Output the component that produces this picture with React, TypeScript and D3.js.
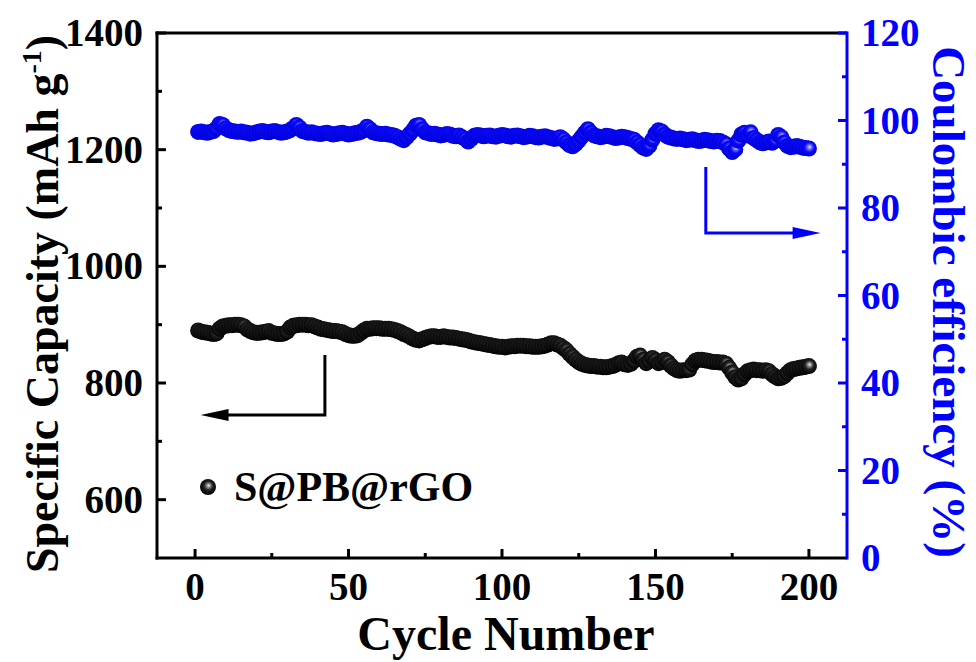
import React, { useEffect, useRef } from "react";
import * as d3 from "d3";

// cycles 1..200
const capacity = [
  890, 888, 887, 886, 885, 884, 885, 893, 897, 898,
  899, 899, 900, 900, 899, 897, 892, 889, 887, 886,
  886, 887, 888, 889, 886, 885, 884, 884, 885, 888,
  895, 898, 899, 900, 900, 900, 899, 899, 897, 895,
  893, 892, 891, 890, 889, 889, 888, 887, 884, 882,
  881, 881, 882, 886, 890, 893, 893, 894, 894, 894,
  893, 893, 893, 892, 891, 889, 887, 884, 882, 879,
  876, 874, 873, 875, 877, 879, 880, 880, 879, 879,
  880, 879, 878, 878, 877, 876, 875, 874, 873, 871,
  870, 869, 868, 867, 866, 865, 864, 863, 862, 862,
  861, 862, 863, 863, 864, 864, 864, 863, 863, 862,
  862, 862, 863, 864, 866, 868, 868, 866, 864, 860,
  856, 850, 845, 840, 836, 833, 831, 830, 829, 829,
  828, 828, 827, 827, 828, 829, 831, 834, 835, 832,
  831, 833, 838, 845, 847, 840, 834, 838, 843, 839,
  834, 836, 840, 836, 830, 825, 822, 821, 822, 822,
  823, 832, 838, 840, 840, 839, 838, 837, 836, 836,
  835, 835, 833, 826, 818, 810, 806, 808, 815, 820,
  822, 823, 822, 822, 821, 822, 820, 815, 811, 808,
  809, 812, 817, 822, 824, 825, 826, 827, 828, 829,
];

const efficiency = [
  97.4, 97.5, 97.3, 97.2, 97.4, 97.6, 98.2, 99.2, 99.0, 98.2,
  97.8, 97.6, 97.5, 97.4, 97.5, 97.3, 97.2, 97.0, 97.1, 97.3,
  97.5, 97.6, 97.4, 97.3, 97.5, 97.6, 97.4, 97.2, 97.3, 97.5,
  97.8, 98.3, 99.0, 98.4, 97.6, 97.4, 97.2, 97.3, 97.1, 97.0,
  96.9, 97.1, 97.2, 97.0, 96.8, 96.9, 97.1, 97.2, 97.0, 96.8,
  96.9, 97.1, 97.2, 97.4, 97.8, 98.6, 98.0, 97.3, 97.1, 97.0,
  96.9, 97.0, 96.8, 96.7, 96.5, 96.2, 95.8, 95.5, 96.2, 97.0,
  97.8, 98.8, 99.0, 98.0, 97.3, 97.1, 96.9, 97.0, 96.8, 96.6,
  96.7, 96.9, 96.8, 96.5, 96.4, 96.6, 96.2, 95.8, 95.2, 95.8,
  96.5, 96.7, 96.6, 96.4, 96.5, 96.6, 96.4, 96.3, 96.5, 96.7,
  96.6, 96.4, 96.3, 96.5, 96.6, 96.4, 96.2, 96.3, 96.5, 96.4,
  96.2, 96.1, 96.3, 96.4, 96.2, 96.0, 95.8, 95.9, 96.2, 95.7,
  95.0, 94.4, 94.1, 94.6, 95.4, 96.3, 97.2, 98.0, 97.2, 96.6,
  96.4, 96.2, 96.3, 96.5, 96.4, 96.2, 96.0, 96.1, 96.3, 96.2,
  96.0, 95.8, 95.6, 95.0, 94.4, 93.8, 93.5, 94.2, 95.6, 97.0,
  97.8, 97.5, 96.8, 96.3, 96.1, 95.9, 95.8, 95.9, 95.7, 95.5,
  95.6, 95.7, 95.5, 95.3, 95.4, 95.6, 95.5, 95.3, 95.2, 95.4,
  95.3, 95.0, 94.6, 93.6, 92.8, 93.4, 95.4, 96.8, 97.2, 96.6,
  97.3, 96.0, 95.5, 95.0, 94.8, 95.0, 95.2, 94.9, 95.4, 96.7,
  96.2, 95.0, 94.2, 93.9, 94.0, 94.2, 94.0, 93.8, 93.7, 93.6,
];

const xTicks = [0, 50, 100, 150, 200];
const leftTicks = [600, 800, 1000, 1200, 1400];
const rightTicks = [0, 20, 40, 60, 80, 100, 120];
const legendLabel = "S@PB@rGO";

const FONT = "'Liberation Serif', 'Times New Roman', serif";
const BLUE = "#0000ff";

const App = () => {
  const ref = useRef(null);

  useEffect(() => {
    const width = 976;
    const height = 662;
    const m = { left: 157, right: 847, top: 33, bottom: 558 };

    const svg = d3.select(ref.current).attr("width", width).attr("height", height);
    svg.selectAll("*").remove();

    const x = d3.scaleLinear().domain([-12.4, 212.4]).range([m.left, m.right]);
    const yL = d3.scaleLinear().domain([500, 1400]).range([m.bottom, m.top]);
    const yR = d3.scaleLinear().domain([0, 120]).range([m.bottom, m.top]);

    const defs = svg.append("defs");
    const grad = (id, stops) => {
      const g = defs
        .append("radialGradient")
        .attr("id", id)
        .attr("cx", 0.5)
        .attr("cy", 0.45)
        .attr("r", 0.55)
        .attr("fx", 0.55)
        .attr("fy", 0.4);
      stops.forEach(([o, c]) => g.append("stop").attr("offset", o).attr("stop-color", c));
    };
    grad("ballK", [[0, "#f0f0f0"], [0.18, "#9a9a9a"], [0.5, "#222"], [1, "#000"]]);
    grad("ballB", [[0, "#f4f4ff"], [0.2, "#8080ff"], [0.55, "#0a0aff"], [1, "#0000d0"]]);

    const r = 8;

    // coulombic efficiency (blue)
    svg
      .append("g")
      .selectAll("circle")
      .data(efficiency)
      .enter()
      .append("circle")
      .attr("cx", (d, i) => x(i + 1))
      .attr("cy", (d) => yR(d))
      .attr("r", r)
      .attr("fill", "url(#ballB)");

    // capacity (black)
    svg
      .append("g")
      .selectAll("circle")
      .data(capacity)
      .enter()
      .append("circle")
      .attr("cx", (d, i) => x(i + 1))
      .attr("cy", (d) => yL(d))
      .attr("r", r)
      .attr("fill", "url(#ballK)");

    // arrows
    const arrow = (pts, color) => {
      svg
        .append("path")
        .attr("d", d3.line()(pts))
        .attr("fill", "none")
        .attr("stroke", color)
        .attr("stroke-width", 3);
    };
    arrow(
      [
        [x(42.3), yL(848)],
        [x(42.3), yL(745)],
        [x(6), yL(745)],
      ],
      "#000"
    );
    const bTip = [x(1.8), yL(745)];
    svg
      .append("path")
      .attr("d", `M${bTip[0]},${bTip[1]} l28,-6 l0,12 z`)
      .attr("fill", "#000");

    arrow(
      [
        [x(166.4), yR(89.4)],
        [x(166.4), yR(74.3)],
        [x(199), yR(74.3)],
      ],
      BLUE
    );
    const rTip = [x(203.8), yR(74.3)];
    svg
      .append("path")
      .attr("d", `M${rTip[0]},${rTip[1]} l-28,-6 l0,12 z`)
      .attr("fill", BLUE);

    // frame
    const ax = svg.append("g").attr("stroke-width", 3).attr("fill", "none");
    ax.append("line").attr("x1", m.left).attr("x2", m.left).attr("y1", m.top - 1.5).attr("y2", m.bottom + 1.5).attr("stroke", "#000");
    ax.append("line").attr("x1", m.left - 1.5).attr("x2", m.right).attr("y1", m.bottom).attr("y2", m.bottom).attr("stroke", "#000");
    ax.append("line").attr("x1", m.left - 1.5).attr("x2", m.right).attr("y1", m.top).attr("y2", m.top).attr("stroke", "#000");
    ax.append("line").attr("x1", m.right).attr("x2", m.right).attr("y1", m.top - 1.5).attr("y2", m.bottom + 1.5).attr("stroke", BLUE);

    // ticks
    const tk = svg.append("g").attr("stroke-width", 3);
    d3.range(0, 201, 25).forEach((v) => {
      const len = v % 50 === 0 ? 9 : 5;
      tk.append("line").attr("x1", x(v)).attr("x2", x(v)).attr("y1", m.bottom).attr("y2", m.bottom - len).attr("stroke", "#000");
    });
    d3.range(600, 1401, 100).forEach((v) => {
      const len = v % 200 === 0 ? 9 : 5;
      tk.append("line").attr("y1", yL(v)).attr("y2", yL(v)).attr("x1", m.left).attr("x2", m.left + len).attr("stroke", "#000");
    });
    d3.range(10, 121, 10).forEach((v) => {
      const len = v % 20 === 0 ? 9 : 5;
      tk.append("line").attr("y1", yR(v)).attr("y2", yR(v)).attr("x1", m.right).attr("x2", m.right - len).attr("stroke", BLUE);
    });

    const txt = svg.append("g").attr("font-family", FONT).attr("font-weight", "bold");

    txt
      .selectAll(".xl")
      .data(xTicks)
      .enter()
      .append("text")
      .attr("x", (d) => x(d))
      .attr("y", 600)
      .attr("text-anchor", "middle")
      .attr("font-size", 39)
      .text((d) => d);

    txt
      .selectAll(".yl")
      .data(leftTicks)
      .enter()
      .append("text")
      .attr("x", 143)
      .attr("y", (d) => yL(d) + 13)
      .attr("text-anchor", "end")
      .attr("font-size", 39)
      .text((d) => d);

    txt
      .selectAll(".yr")
      .data(rightTicks)
      .enter()
      .append("text")
      .attr("x", 861)
      .attr("y", (d) => yR(d) + 13)
      .attr("text-anchor", "start")
      .attr("font-size", 39)
      .attr("fill", BLUE)
      .text((d) => d);

    // axis titles
    txt
      .append("text")
      .attr("x", (m.left + m.right) / 2 + 4)
      .attr("y", 650)
      .attr("text-anchor", "middle")
      .attr("font-size", 48)
      .text("Cycle Number");

    const lt = txt
      .append("text")
      .attr("transform", `translate(58,304) rotate(-90)`)
      .attr("text-anchor", "middle")
      .attr("font-size", 46);
    lt.append("tspan").text("Specific Capacity (mAh g");
    lt.append("tspan").attr("dy", -17).attr("font-size", 28).text("-1");
    lt.append("tspan").attr("dy", 17).text(")");

    txt
      .append("text")
      .attr("transform", `translate(933,302) rotate(90)`)
      .attr("text-anchor", "middle")
      .attr("font-size", 47)
      .attr("fill", BLUE)
      .text("Coulombic efficiency (%)");

    // legend
    svg.append("circle").attr("cx", 208).attr("cy", 487).attr("r", r).attr("fill", "url(#ballK)");
    txt
      .append("text")
      .attr("x", 234)
      .attr("y", 501)
      .attr("font-size", 42)
      .text(legendLabel);
  }, []);

  return <svg ref={ref} style={{ position: "absolute", left: 0, top: 0, background: "#fff" }} />;
};

export default App;
